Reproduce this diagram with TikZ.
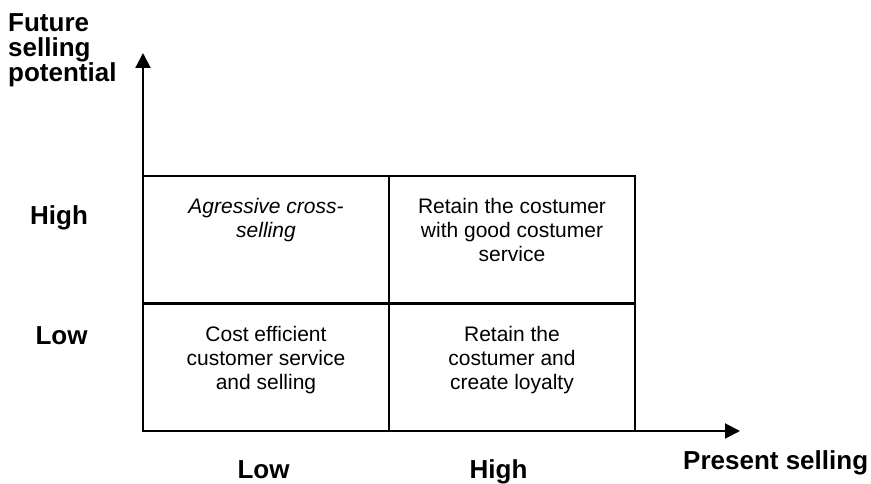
\documentclass[tikz,border=0pt]{standalone}
\usepackage{fontspec}
\setmainfont{Liberation Sans}
\usetikzlibrary{arrows.meta,positioning}
\tikzstyle{axis}=[line width=2pt,-{Triangle[length=15pt,width=15pt]}]
\tikzstyle{quadrant}=[draw,line width=2pt,minimum width=246pt,minimum height=127pt,inner sep=0pt]
\tikzstyle{quadtext}=[align=center,inner sep=0pt,font=\fontsize{21}{24}\selectfont]
\tikzstyle{quaditalic}=[quadtext,font=\fontsize{21}{24}\selectfont\itshape]
\tikzstyle{axislabel}=[inner sep=0pt,font=\fontsize{26}{25}\selectfont\bfseries]
\newcommand{\newquadrant}[4][quadtext]{% Syntax: [text style] {name} {centre} {text}
	\node[quadrant] (#2) at (#3) {};
	\node[#1,below=23pt of #2.north] (#2text) {#4}; % text hangs from the top edge
}

\begin{document}
\begin{tikzpicture}[x=1pt,y=1pt]
	\useasboundingbox (0,0) rectangle (871,484);
	% the four boxes
	\newquadrant[quaditalic]{lowhigh}{266,244}{Agressive cross-\\selling}
	\newquadrant{highhigh}{512,244}{Retain the costumer\\with good costumer\\service}
	\newquadrant{lowlow}{266,116.5}{Cost efficient\\customer service\\and selling}
	\newquadrant{highlow}{512,116.5}{Retain the\\costumer and\\create loyalty}
	% axes
	\coordinate (origin) at (143,53);
	\coordinate (ytip) at (143,431);
	\coordinate (xtip) at (740,53);
	\draw[axis] (origin) -- (ytip);
	\draw[axis] (origin) -- (xtip);
	% labels
	\node[axislabel,anchor=north west,align=left] (ylabel) at (8,471) {Future\\selling\\potential};
	\node[axislabel,anchor=base] (yhigh) at (59,259) {High};
	\node[axislabel,anchor=base] (ylow) at (61.5,139) {Low};
	\node[axislabel,anchor=base] (xlow) at (263.5,5) {Low};
	\node[axislabel,anchor=base] (xhigh) at (498.5,5) {High};
	\node[axislabel,anchor=base west] (xlabel) at (683,14) {Present selling};
\end{tikzpicture}
\end{document}
